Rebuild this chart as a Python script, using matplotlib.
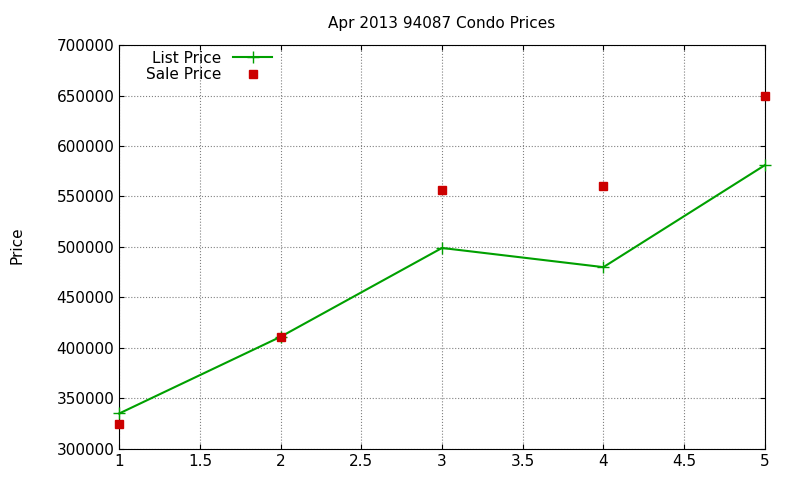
import matplotlib
matplotlib.use("Agg")
import matplotlib.pyplot as plt

x = [1, 2, 3, 4, 5]
list_price = [335000, 411000, 499000, 480000, 581000]
sale_price = [325000, 411000, 556000, 560000, 650000]

fig = plt.figure(figsize=(8, 4.8), dpi=100)
ax = fig.add_axes([0.149, 0.065, 0.807, 0.841])
ax.plot(x, list_price, color="#00a000", marker="+", markersize=8, linewidth=1.5,
        label="List Price", clip_on=False, zorder=3)
ax.plot(x, sale_price, color="#cc0000", marker="s", markersize=6, linestyle="none",
        label="Sale Price", clip_on=False, zorder=3)
ax.set_xlim(1, 5)
ax.set_ylim(300000, 700000)
ax.set_xticks([1, 1.5, 2, 2.5, 3, 3.5, 4, 4.5, 5])
ax.set_xticklabels(["1", "1.5", "2", "2.5", "3", "3.5", "4", "4.5", "5"])
ax.set_yticks(range(300000, 700001, 50000))
ax.grid(True, color="gray", linestyle=":", linewidth=0.8)
ax.tick_params(direction="in", labelsize=11, top=True, right=True)
fig.text(0.012, 0.49, "Price", rotation=90, fontsize=11, va="center", ha="left")
ax.set_title("Apr 2013 94087 Condo Prices", fontsize=11, pad=12)
ax.legend(loc="upper left", frameon=False, markerfirst=False, fontsize=11,
          bbox_to_anchor=(0.02, 1.02), handlelength=2.5, labelspacing=0.1)
fig.savefig("out.png")
